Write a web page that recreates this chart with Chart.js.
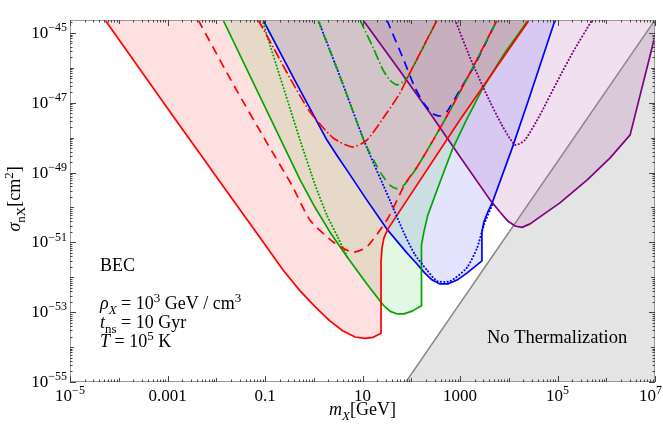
<!DOCTYPE html>
<html>
<head>
<meta charset="utf-8">
<script src="https://cdn.jsdelivr.net/npm/chart.js@4.4.1/dist/chart.umd.min.js"></script>
<style>
  html, body { margin: 0; padding: 0; background: #fff; }
  canvas { display: block; }
</style>
</head>
<body>
<canvas id="chart" width="663" height="431"></canvas>
<script>
// every curve: [log10(m_X / GeV), log10(sigma_nX / cm^2)]
const redSolid = [[-4.28,-44.63],[-2.95,-47.26],[-1.51,-50.07],[-1.10,-50.87],[-0.63,-51.79],[-0.28,-52.39],[0.03,-52.85],[0.33,-53.25],[0.60,-53.54],[0.85,-53.71],[1.05,-53.75],[1.22,-53.72],[1.38,-53.60],[1.38,-51.56],[1.40,-51.16],[1.44,-50.87],[1.52,-50.62],[3.00,-47.49],[4.42,-44.63]];
const redDashed = [[-2.37,-44.63],[-1.62,-46.55],[-0.96,-48.15],[-0.45,-49.36],[-0.08,-50.36],[0.40,-50.99],[0.79,-51.28],[1.09,-51.13],[1.50,-50.36],[1.71,-49.79],[1.87,-49.33],[2.12,-48.84],[2.45,-48.07],[2.80,-47.21],[3.27,-45.97],[3.76,-44.63]];
const redDotDashed = [[-1.14,-44.63],[-0.80,-45.49],[-0.49,-46.29],[-0.08,-47.26],[0.40,-48.01],[0.79,-48.27],[1.09,-48.07],[1.50,-47.29],[1.77,-46.72],[1.93,-46.26],[2.53,-44.63]];

const greenSolid = [[-1.86,-44.63],[-0.28,-49.21],[0.03,-50.01],[0.33,-50.70],[0.70,-51.45],[1.09,-52.19],[1.42,-52.79],[1.56,-52.97],[1.71,-53.05],[1.85,-53.05],[2.02,-52.97],[2.20,-52.82],[2.20,-51.45],[2.22,-51.07],[2.26,-50.70],[2.34,-50.22],[2.59,-49.27],[2.84,-48.35],[3.12,-47.53],[3.45,-46.63],[3.92,-45.57],[4.40,-44.63]];
const greenDotted = [[-1.06,-44.63],[-0.28,-48.07],[0.03,-49.36],[0.27,-50.22],[0.50,-50.87],[0.70,-51.45]];
const greenDashed = [[0.09,-44.63],[0.58,-46.40],[1.05,-48.15],[1.36,-48.98],[1.56,-49.36],[1.73,-49.47],[1.87,-49.33],[2.12,-48.84],[2.45,-48.07],[2.80,-47.21],[3.27,-45.97],[3.76,-44.63]];
const greenDotDashed = [[0.95,-44.63],[1.22,-45.43],[1.42,-46.06],[1.56,-46.35],[1.71,-46.49],[1.83,-46.40],[1.93,-46.26],[2.53,-44.63]];

const blueSolid = [[-1.04,-44.63],[-0.39,-46.35],[0.27,-48.07],[0.48,-48.52],[0.68,-48.93],[1.09,-49.79],[1.50,-50.62],[1.91,-51.30],[2.10,-51.59],[2.28,-51.88],[2.43,-52.08],[2.59,-52.19],[2.75,-52.19],[2.94,-52.08],[3.14,-51.88],[3.45,-51.53],[3.45,-50.70],[3.49,-50.42],[3.57,-50.13],[3.66,-49.87],[4.07,-48.30],[4.44,-46.78],[4.95,-44.63]];
const blueDotted = [[0.09,-44.63],[0.58,-46.40],[1.05,-48.15],[1.56,-49.79],[1.87,-50.79],[2.08,-51.36],[2.32,-51.79],[2.53,-52.11],[2.80,-52.11],[3.14,-51.73],[3.35,-51.16],[3.49,-50.50],[3.66,-49.93]];
const blueDashed = [[1.50,-44.63],[1.83,-45.72],[2.08,-46.58],[2.28,-47.06],[2.45,-47.32],[2.59,-47.38],[2.73,-47.26],[3.00,-46.63],[3.27,-46.00],[3.51,-45.34],[3.76,-44.63]];

const purpleSolid = [[1.01,-44.63],[1.77,-46.09],[2.38,-47.29],[3.00,-48.55],[3.62,-49.79],[3.82,-50.13],[3.98,-50.39],[4.13,-50.53],[4.27,-50.57],[4.44,-50.47],[4.64,-50.27],[5.05,-49.87],[5.61,-49.21],[6.08,-48.58],[6.49,-47.92],[7.00,-45.09]];
const purpleDotted = [[2.90,-44.63],[3.21,-45.72],[3.55,-46.78],[3.86,-47.64],[4.13,-48.21],[4.33,-48.07],[4.64,-47.35],[4.99,-46.40],[5.32,-45.54],[5.71,-44.63]];

const noThermalization = [[1.89,-55],[7.00,-44.63]];

const massTicks = [-5, -3, -1, 1, 3, 5, 7];
const massTickText = ['10^−5', '0.001', '0.1', '10', '1000', '10^5', '10^7'];
const sigmaTicks = [-45, -47, -49, -51, -53, -55];

const xRange = [-5, 7];
const yRange = [-55, -44.63];

const serif = '"Liberation Serif", "Times New Roman", serif';
const dashed = [9, 6];
const dotted = [0.1, 3.3];
const dotDashed = [9, 4, 0.1, 4];

const toPts = a => a.map(p => ({ x: Math.pow(10, p[0]), y: Math.pow(10, p[1]) }));

function curve(data, color, dash, fillColor) {
  const round = dash === dotted || dash === dotDashed;
  return {
    data: toPts(data),
    borderColor: color,
    borderWidth: dash === dotted ? 2 : 1.7,
    borderDash: dash || [],
    borderCapStyle: round ? 'round' : 'butt',
    borderJoinStyle: 'round',
    backgroundColor: fillColor || 'transparent',
    fill: fillColor ? 'end' : false,
    showLine: true,
    pointRadius: 0,
    tension: fillColor ? 0 : 0.2,
  };
}

const RED = '#ff0000', GREEN = '#00a500', BLUE = '#0000ff', PURPLE = '#800080';

const datasets = [
  curve(redDashed, RED, dashed),
  curve(redDotDashed, RED, dotDashed),
  curve(greenDotted, GREEN, dotted),
  curve(greenDashed, GREEN, dashed),
  curve(greenDotDashed, GREEN, dotDashed),
  curve(blueDotted, BLUE, dotted),
  curve(blueDashed, BLUE, dashed),
  curve(purpleDotted, PURPLE, dotted),
  curve(redSolid, RED, null, 'rgba(255,0,0,0.12)'),
  curve(greenSolid, GREEN, null, 'rgba(0,180,0,0.11)'),
  curve(blueSolid, BLUE, null, 'rgba(0,0,255,0.105)'),
  curve(purpleSolid, PURPLE, null, 'rgba(128,0,128,0.12)'),
  {
    data: toPts(noThermalization),
    borderColor: '#888888',
    borderWidth: 1.5,
    backgroundColor: 'rgba(120,120,120,0.2)',
    fill: 'start',
    showLine: true,
    pointRadius: 0,
  },
];

// text with sub/superscripts: parts = [text, kind], kind: r roman, i italic, u sup, d sub
function fontFor(kind, size) {
  const small = kind.includes('u') || kind.includes('d');
  const s = small ? Math.round(size * 0.7) : size;
  return (kind.includes('i') ? 'italic ' : '') + s + 'px ' + serif;
}
function richWidth(ctx, parts, size) {
  let w = 0;
  for (const [t, k] of parts) { ctx.font = fontFor(k, size); w += ctx.measureText(t).width; }
  return w;
}
function drawRich(ctx, parts, x, y, size, align) {
  ctx.save();
  ctx.textAlign = 'left';
  ctx.textBaseline = 'alphabetic';
  ctx.fillStyle = '#000';
  const w = richWidth(ctx, parts, size);
  let cx = align === 'right' ? x - w : align === 'center' ? x - w / 2 : x;
  if (cx + w > 662) cx = 662 - w;
  for (const [t, k] of parts) {
    ctx.font = fontFor(k, size);
    const dy = k.includes('u') ? -size * 0.4 : k.includes('d') ? size * 0.25 : 0;
    ctx.fillText(t, cx, y + dy);
    cx += ctx.measureText(t).width;
  }
  ctx.restore();
}
function tickParts(s) {
  if (s.includes('^')) { const [b, e] = s.split('^'); return [[b, 'r'], [e, 'u']]; }
  return [[s, 'r']];
}

const framePlugin = {
  id: 'framePlugin',
  afterDraw(chart) {
    const ctx = chart.ctx;
    const a = chart.chartArea;
    const xs = chart.scales.x, ys = chart.scales.y;

    ctx.save();
    ctx.strokeStyle = '#9a9a9a';
    ctx.lineWidth = 1;
    ctx.strokeRect(a.left + 0.5, a.top + 0.5, a.right - a.left - 1, a.bottom - a.top - 1);

    ctx.strokeStyle = '#444';
    ctx.beginPath();
    for (let e = xRange[0]; e <= xRange[1]; e++) {
      for (let k = 1; k <= 9; k++) {
        const lv = e + Math.log10(k);
        if (lv > xRange[1] + 1e-9) break;
        const px = Math.round(xs.getPixelForValue(Math.pow(10, lv))) + 0.5;
        const len = k === 1 ? (massTicks.includes(e) ? 6 : 4) : 2.5;
        ctx.moveTo(px, a.bottom); ctx.lineTo(px, a.bottom - len);
        ctx.moveTo(px, a.top); ctx.lineTo(px, a.top + len);
      }
    }
    for (let e = yRange[0]; e <= Math.ceil(yRange[1]); e++) {
      for (let k = 1; k <= 9; k++) {
        const lv = e + Math.log10(k);
        if (lv > yRange[1]) break;
        const py = Math.round(ys.getPixelForValue(Math.pow(10, lv))) + 0.5;
        const len = k === 1 ? (sigmaTicks.includes(e) ? 6 : 4) : 2.5;
        ctx.moveTo(a.left, py); ctx.lineTo(a.left + len, py);
        ctx.moveTo(a.right, py); ctx.lineTo(a.right - len, py);
      }
    }
    ctx.stroke();
    ctx.restore();

    const fs = 17;
    massTicks.forEach((e, i) => {
      const px = xs.getPixelForValue(Math.pow(10, e));
      drawRich(ctx, tickParts(massTickText[i]), px, a.bottom + 19, fs, 'center');
    });
    sigmaTicks.forEach(e => {
      const py = ys.getPixelForValue(Math.pow(10, e));
      drawRich(ctx, [['10', 'r'], ['−' + Math.abs(e), 'u']], a.left - 3, py + 5, fs, 'right');
    });

    // axis titles
    drawRich(ctx, [['m', 'i'], ['X', 'di'], ['[GeV]', 'r']], (a.left + a.right) / 2, 415, 18, 'center');
    ctx.save();
    ctx.translate(20, 199);
    ctx.rotate(-Math.PI / 2);
    drawRich(ctx, [['σ', 'i'], ['nX', 'd'], ['[cm', 'r'], ['2', 'u'], [']', 'r']], 0, 0, 18, 'center');
    ctx.restore();

    // annotations
    drawRich(ctx, [['BEC', 'r']], 100, 271, 18);
    drawRich(ctx, [['ρ', 'i'], ['X', 'di'], [' = 10', 'r'], ['3', 'u'], [' GeV / cm', 'r'], ['3', 'u']], 100, 309, 18);
    drawRich(ctx, [['t', 'i'], ['ns', 'd'], [' = 10 Gyr', 'r']], 100, 328, 18);
    drawRich(ctx, [['T', 'i'], [' = 10', 'r'], ['5', 'u'], [' K', 'r']], 100, 347, 18);
    drawRich(ctx, [['No Thermalization', 'r']], 487, 343, 18.5);
  }
};

new Chart(document.getElementById('chart'), {
  type: 'scatter',
  data: { datasets },
  options: {
    responsive: false,
    animation: false,
    layout: { padding: { left: 70, right: 8, top: 20, bottom: 49 } },
    plugins: {
      legend: { display: false },
      tooltip: { enabled: false },
      filler: { drawTime: 'beforeDatasetsDraw' },
    },
    scales: {
      x: { type: 'logarithmic', display: false, min: Math.pow(10, xRange[0]), max: Math.pow(10, xRange[1]) },
      y: { type: 'logarithmic', display: false, min: Math.pow(10, yRange[0]), max: Math.pow(10, yRange[1]) },
    },
  },
  plugins: [framePlugin],
});
</script>
</body>
</html>
